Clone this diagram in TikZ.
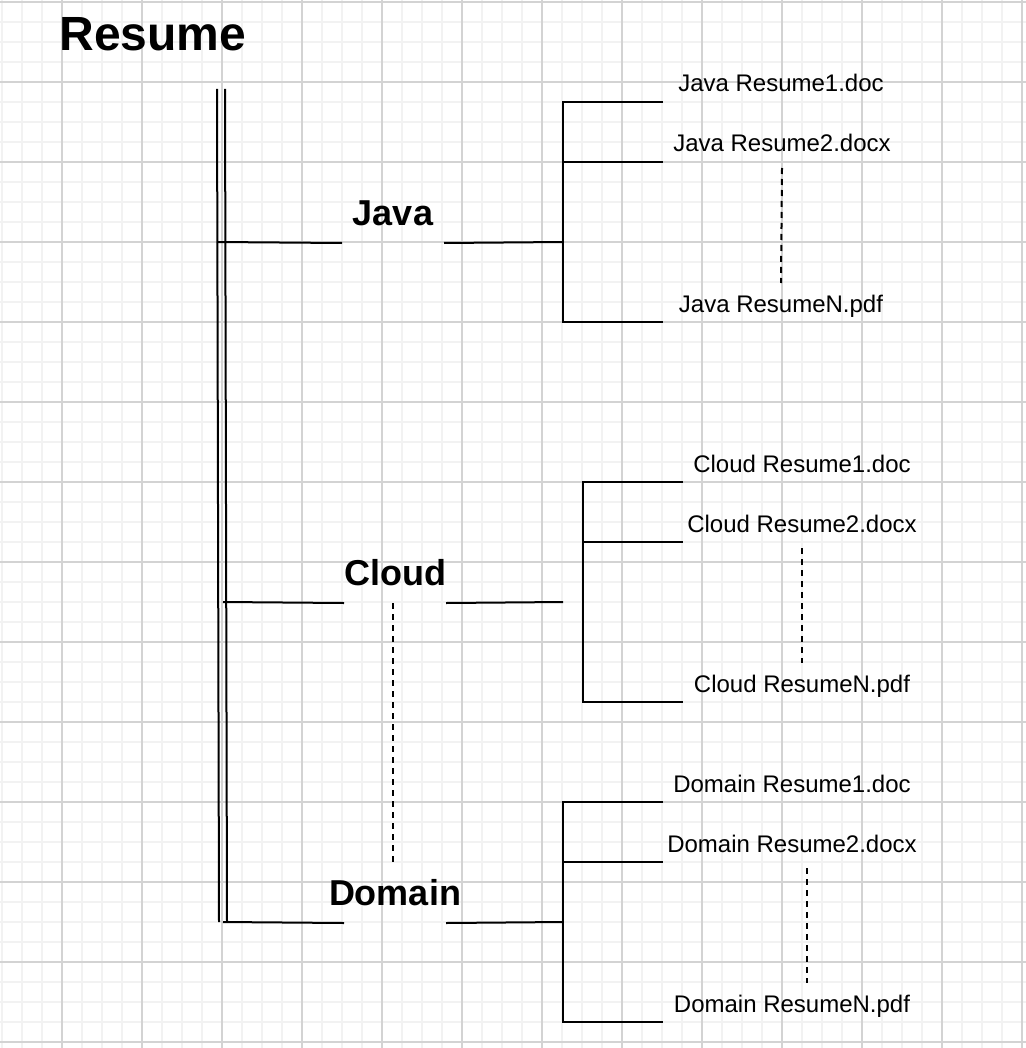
\documentclass[tikz,border=0pt]{standalone}
\usepackage{fontspec}
\setmainfont{Liberation Sans}
\usetikzlibrary{positioning}
\tikzset{>=stealth}
\definecolor{gridmajor}{HTML}{D3D3D3}
\definecolor{gridminor}{HTML}{F2F2F2}
\newcommand{\foldername}[1]{\makebox[50pt]{#1}}

\begin{document}
\begin{tikzpicture}[x=0.5pt, y=-0.5pt, line width=1pt]
	\tikzset{
		folder/.style={font=\fontsize{18}{20}\selectfont\bfseries, minimum width=50pt, minimum height=29pt, inner sep=0pt},
		file/.style={font=\fontsize{12}{14}\selectfont, anchor=base, text height=9pt, text depth=2.5pt, inner xsep=0pt, inner ysep=5pt},
		minor/.style={draw=gridminor, line width=0.8pt},
		major/.style={draw=gridmajor, line width=0.6pt},
		dots/.style={dash pattern=on 3pt off 2.5pt},
	}
	\useasboundingbox (0,0) rectangle (1026,1048);
	\fill[white] (0,0) rectangle (1026,1048);

	% grid paper
	\foreach \g in {2,22,...,1022} \draw[minor] (\g,0) -- (\g,1048);
	\foreach \g in {2,22,...,1042} \draw[minor] (0,\g) -- (1026,\g);
	\foreach \g in {62,142,...,1022} \draw[major] (\g,0) -- (\g,1048);
	\foreach \g in {2,82,...,1042} \draw[major] (0,\g) -- (1026,\g);

	\node[anchor=base, font=\fontsize{24}{28}\selectfont\bfseries] (title) at (153,51) {Resume};

	\node[folder] (java) at (393,213) {\foldername{Java}};
	\node[folder] (cloud) at (395,573) {\foldername{Cloud}};
	\node[folder] (domain) at (395,893) {\foldername{Domain}};

	\node[file] (j1) at (781,92) {Java Resume1.doc};
	\node[file] (j2) at (782,152) {Java Resume2.docx};
	\node[file] (jn) at (781,312) {Java ResumeN.pdf};
	\node[file] (c1) at (802,472) {Cloud Resume1.doc};
	\node[file] (c2) at (802,532) {Cloud Resume2.docx};
	\node[file] (cn) at (802,692) {Cloud ResumeN.pdf};
	\node[file] (d1) at (792,792) {Domain Resume1.doc};
	\node[file] (d2) at (792,852) {Domain Resume2.docx};
	\node[file] (dn) at (792,1012) {Domain ResumeN.pdf};

	% trunk
	\coordinate (tl1) at (217,89);  \coordinate (tl2) at (219,922);
	\coordinate (tr1) at (225,89);  \coordinate (tr2) at (227,922);
	\coordinate (bj) at (217,242);  \coordinate (bc) at (223,602);  \coordinate (bd) at (223,922);
	\draw (tl1) -- (tl2);
	\draw (tr1) -- (tr2);

	% java
	\coordinate (jm) at (563,242);
	\coordinate (jt) at (563,102);  \coordinate (js) at (563,162);  \coordinate (jb) at (563,322);
	\coordinate (j1e) at (663,102); \coordinate (j2e) at (663,162); \coordinate (jne) at (663,322);
	\draw (bj) -- (java.south west);
	\draw (java.south east) -- (jm);
	\draw (j1e) -- (jt) -- (jb) -- (jne);
	\draw (js) -- (j2e);
	\draw[dots] (j2.south) -- (jn.north);

	% cloud
	\coordinate (cm) at (563,602);
	\coordinate (ct) at (583,482);  \coordinate (cs) at (583,542);  \coordinate (cb) at (583,702);
	\coordinate (c1e) at (683,482); \coordinate (c2e) at (683,542); \coordinate (cne) at (683,702);
	\draw (bc) -- (cloud.south west);
	\draw (cloud.south east) -- (cm);
	\draw (c1e) -- (ct) -- (cb) -- (cne);
	\draw (cs) -- (c2e);
	\draw[dots] ([xshift=-1pt]cloud.south) -- ([xshift=-1pt]domain.north);
	\draw[dots] (c2.south) -- (cn.north);

	% domain
	\coordinate (dm) at (563,922);
	\coordinate (dt) at (563,802);  \coordinate (ds) at (563,862);  \coordinate (db) at (563,1022);
	\coordinate (d1e) at (663,802); \coordinate (d2e) at (663,862); \coordinate (dne) at (663,1022);
	\draw (bd) -- (domain.south west);
	\draw (domain.south east) -- (dm);
	\draw (d1e) -- (dt) -- (db) -- (dne);
	\draw (ds) -- (d2e);
	\draw[dots] ([xshift=7.5pt]d2.south) -- ([xshift=7.5pt]dn.north);

\end{tikzpicture}
\end{document}
